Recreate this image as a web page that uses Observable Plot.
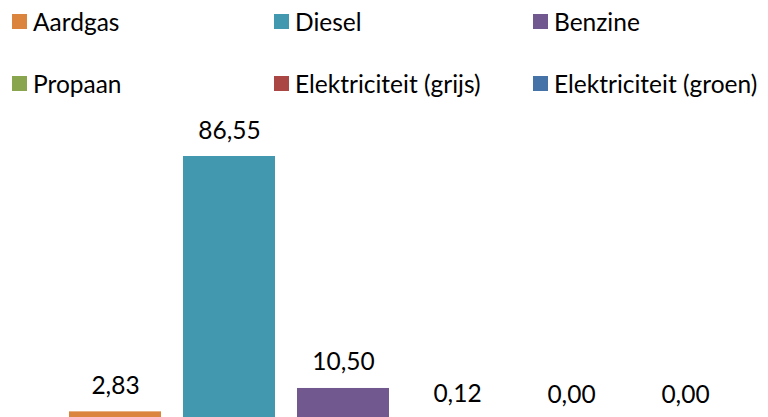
<!DOCTYPE html>
<html>
<head>
<meta charset="utf-8">
<script src="https://cdn.jsdelivr.net/npm/d3@7"></script>
<script src="https://cdn.jsdelivr.net/npm/@observablehq/plot@0.6"></script>
<style>
  html, body { margin: 0; padding: 0; background: #fff; overflow: hidden; }
  body { width: 768px; height: 417px; font-family: Lato, "Noto Sans", sans-serif; }
  #legend { position: relative; height: 110px; }
  .item { position: absolute; display: flex; align-items: center; font-size: 24.5px; color: #000; white-space: nowrap; }
  .sw { width: 15px; height: 15px; margin-right: 6px; flex: none; }
</style>
</head>
<body>
<div id="legend"></div>
<div id="chart"></div>
<script>
const categories = ["Aardgas", "Diesel", "Benzine", "Propaan", "Elektriciteit (grijs)", "Elektriciteit (groen)"];
const values = [2.83, 86.55, 10.50, 0.12, 0.00, 0.00];
const colors = ["#DB843D", "#4198AF", "#71588F", "#89A54E", "#AA4643", "#4572A7"];

const data = categories.map((c, i) => ({category: c, value: values[i]}));
const nl = d3.formatLocale({decimal: ",", thousands: ".", grouping: [3], currency: ["€", ""]});
const fmt = nl.format(".2f");

// legend
const legend = document.getElementById("legend");
const colLeft = [12, 274, 533];
const rowTop = [21.5, 83.5];
categories.forEach((c, i) => {
  const el = document.createElement("div");
  el.className = "item";
  el.style.left = colLeft[i % 3] + "px";
  el.style.top = (rowTop[Math.floor(i / 3)] - 15) + "px";
  el.style.height = "30px";
  el.innerHTML = `<span class="sw" style="background:${colors[i]}"></span><span>${c}</span>`;
  legend.appendChild(el);
});

const chart = Plot.plot({
  width: 768,
  height: 310,
  marginLeft: 58,
  marginRight: 26,
  marginTop: 46,
  marginBottom: 0,
  style: {fontFamily: "Lato, 'Noto Sans', sans-serif", fontSize: "24.5px", background: "#fff", overflow: "visible"},
  x: {domain: categories, paddingInner: 0.19, paddingOuter: 0.095, axis: null},
  y: {domain: [0, d3.max(values)], axis: null},
  color: {domain: categories, range: colors},
  marks: [
    Plot.barY(data, {x: "category", y: "value", fill: "category"}),
    Plot.text(data, {x: "category", y: "value", text: d => fmt(d.value), lineAnchor: "bottom", dy: -18, fill: "#000", fontSize: 24.5})
  ]
});
document.getElementById("chart").appendChild(chart);
</script>
</body>
</html>
